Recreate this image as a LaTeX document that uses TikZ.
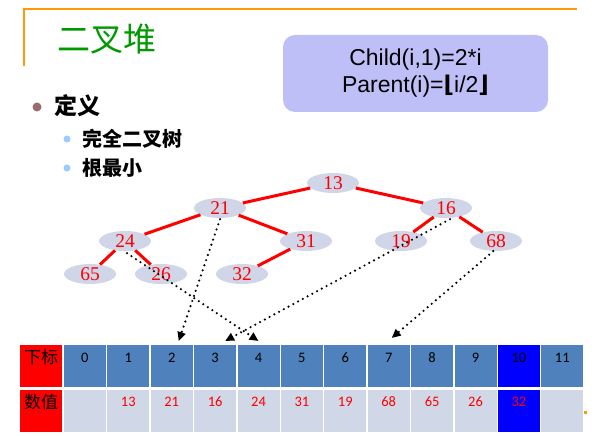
\documentclass[tikz,border=0pt]{standalone}
\usepackage{fontspec}
\setmainfont{Liberation Serif}
\newfontfamily\cjk{Noto Sans CJK SC}
\newfontfamily\arial{Liberation Sans}
\newfontfamily\calib{Carlito}
\newfontfamily\dejavu{DejaVu Sans}
\usetikzlibrary{shapes.geometric,arrows.meta,calc}
\definecolor{frameorange}{RGB}{255,153,0}
\definecolor{titlegreen}{RGB}{0,153,0}
\definecolor{boxlav}{RGB}{191,191,247}
\definecolor{nodefill}{RGB}{208,214,232}
\definecolor{idxblue}{RGB}{79,129,189}
\definecolor{valgray}{RGB}{208,216,232}
\definecolor{bulbrown}{RGB}{153,108,108}
\definecolor{bulblue}{RGB}{153,204,255}
\tikzset{
  heapnode/.style={ellipse, fill=nodefill, minimum width=52pt, minimum height=20pt, inner sep=0pt, text=red, font=\fontsize{19.5}{20}\selectfont},
  heapedge/.style={red, line width=3pt},
  ptr/.style={black, line width=2.4pt, dash pattern=on 0pt off 5.4pt, line cap=round, -{Triangle[length=9pt,width=8pt]}},
  cellbox/.style={rectangle, minimum width=42pt, minimum height=42pt, inner sep=0pt, anchor=north west},
  idxtext/.style={font=\calib\fontsize{14.5}{16}\selectfont, text=black},
  valtext/.style={font=\calib\fontsize{14.5}{16}\selectfont, text=red},
  labtext/.style={font=\cjk\fontsize{17}{19}\selectfont, text=black},
}
\begin{document}
\begin{tikzpicture}[x=1pt,y=-1pt]
\useasboundingbox (0,0) rectangle (598,436);
% frame
\draw[frameorange, line width=2pt] (24,66) -- (24,9.5) -- (577,9.5);
\fill[frameorange] (583.5,410.5) rectangle (587,414);
% title
\node[text=titlegreen, font=\cjk\fontsize{33}{35}\selectfont] (title) at (107,39) {二叉堆};
% formula box
\node[fill=boxlav, rounded corners=12pt, minimum width=265pt, minimum height=77pt, align=center, font=\arial\fontsize{23}{27}\selectfont, inner sep=0pt] (box) at (415.5,73.5)
  {Child(i,1)=2*i\\Parent(i)={\dejavu\bfseries ⌊}i/2{\dejavu\bfseries ⌋}};
% bullets
\fill[bulbrown] (37,107) circle (4.5);
\node[anchor=west, font=\cjk\bfseries\fontsize{23}{25}\selectfont] (def) at (51,106) {定义};
\fill[bulblue] (67,139) circle (3.5);
\node[anchor=west, font=\cjk\bfseries\fontsize{20}{22}\selectfont] (b1) at (79,139) {完全二叉树};
\fill[bulblue] (67,168) circle (3.5);
\node[anchor=west, font=\cjk\bfseries\fontsize{20}{22}\selectfont] (b2) at (79,168) {根最小};
% heap nodes
\node[heapnode] (n13) at (333,183) {13};
\node[heapnode] (n21) at (220,208) {21};
\node[heapnode] (n16) at (446,208) {16};
\node[heapnode] (n24) at (125,241) {24};
\node[heapnode] (n31) at (306,241) {31};
\node[heapnode] (n19) at (401,241) {19};
\node[heapnode] (n68) at (496,241) {68};
\node[heapnode] (n65) at (90,274) {65};
\node[heapnode] (n26) at (161,274) {26};
\node[heapnode] (n32) at (242,274) {32};
\draw[heapedge] (n13) -- (n21);
\draw[heapedge] (n13) -- (n16);
\draw[heapedge] (n21) -- (n24);
\draw[heapedge] (n21) -- (n31);
\draw[heapedge] (n16) -- (n19);
\draw[heapedge] (n16) -- (n68);
\draw[heapedge] (n24) -- (n65);
\draw[heapedge] (n24) -- (n26);
\draw[heapedge] (n31) -- (n32);
% table
\node[cellbox, fill=red, minimum width=42.5pt] (lab1) at (19.5,345) {};
\node[cellbox, fill=red, minimum width=42.5pt] (lab2) at (19.5,390) {};
\node[labtext] at (41,357) {下标};
\node[labtext] at (41,402) {数值};
\foreach \i/\fa/\fb in {0/idxblue/valgray,1/idxblue/valgray,2/idxblue/valgray,3/idxblue/valgray,4/idxblue/valgray,5/idxblue/valgray,6/idxblue/valgray,7/idxblue/valgray,8/idxblue/valgray,9/idxblue/valgray,10/blue/blue,11/idxblue/valgray} {
  \node[cellbox, fill=\fa] (c\i) at ({63.7+43.4*\i},345) {};
  \node[cellbox, fill=\fb] (v\i) at ({63.7+43.4*\i},390) {};
  \node[idxtext] at ([yshift=-13pt]c\i.north) {\i};
}
\foreach \i/\v in {1/13,2/21,3/16,4/24,5/31,6/19,7/68,8/65,9/26,10/32} {
  \node[valtext] at ([yshift=-12pt]v\i.north) {\v};
}
% pointers
\draw[ptr] ([yshift=-1pt]n21.south) -- ([xshift=7pt,yshift=4pt]c2.north);
\draw[ptr] ([xshift=2pt,yshift=-2pt]n24.south) -- ([xshift=0pt,yshift=4pt]c4.north);
\draw[ptr] ([xshift=4pt,yshift=-1pt]n16.south) -- ([xshift=10pt,yshift=4pt]c3.north);
\draw[ptr] (n68.-105) -- ([xshift=3pt,yshift=7pt]c7.north);
\end{tikzpicture}
\end{document}
